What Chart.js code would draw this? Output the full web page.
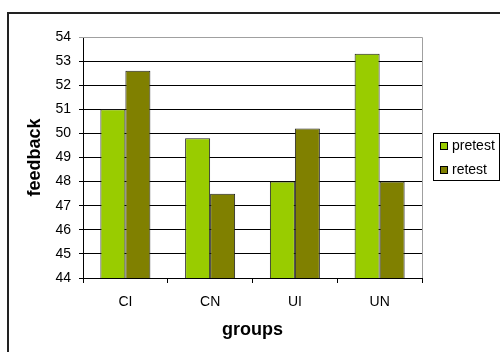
<!DOCTYPE html>
<html>
<head>
<meta charset="utf-8">
<script src="https://cdn.jsdelivr.net/npm/chart.js@4/dist/chart.umd.min.js"></script>
<style>
  html, body { margin: 0; padding: 0; background: #fff; }
  #wrap { width: 500px; height: 352px; }
</style>
</head>
<body>
<div id="wrap"><canvas id="c" width="500" height="352"></canvas></div>
<script>
const groups = ['CI', 'CN', 'UI', 'UN'];
const pretest = [51.0, 49.8, 48.0, 53.3];
const retest = [52.6, 47.5, 50.2, 48.0];
const yTicks = [44, 45, 46, 47, 48, 49, 50, 51, 52, 53, 54];

const FONT = '"Liberation Sans", Arial, sans-serif';
const PAD_BOTTOM = 7;

// Frame around the figure, gray plot border and the boxed legend
const decor = {
  id: 'decor',
  beforeDraw(chart) {
    const ctx = chart.ctx;
    ctx.save();
    ctx.fillStyle = '#fff';
    ctx.fillRect(0, 0, chart.width, chart.height);
    ctx.strokeStyle = '#222';
    ctx.lineWidth = 2;
    ctx.beginPath();
    ctx.moveTo(8, chart.height);
    ctx.lineTo(8, 13);
    ctx.lineTo(chart.width, 13);
    ctx.stroke();
    ctx.restore();
  },
  beforeDatasetsDraw(chart) {
    const { ctx, chartArea: a } = chart;
    ctx.save();
    ctx.strokeStyle = '#a0a0a0';
    ctx.lineWidth = 1;
    ctx.beginPath();
    ctx.moveTo(a.left, a.top + 0.5);
    ctx.lineTo(a.right + 0.5, a.top + 0.5);
    ctx.lineTo(a.right + 0.5, a.bottom);
    ctx.stroke();
    ctx.restore();
  },
  afterDraw(chart) {
    const ctx = chart.ctx;
    ctx.save();
    ctx.strokeStyle = '#000';
    ctx.lineWidth = 1;
    ctx.fillStyle = '#fff';
    ctx.fillRect(433.5, 133.5, 66, 47);
    ctx.strokeRect(433.5, 133.5, 66, 47);
    ctx.font = '14px ' + FONT;
    ctx.textBaseline = 'middle';
    chart.data.datasets.forEach((ds, i) => {
      const y = 146 + i * 24;
      ctx.fillStyle = ds.backgroundColor;
      ctx.fillRect(440.5, y - 3.5, 7, 7);
      ctx.strokeStyle = '#000';
      ctx.strokeRect(440.5, y - 3.5, 7, 7);
      ctx.fillStyle = '#000';
      ctx.fillText(ds.label, 452, y + 0.5);
    });
    ctx.restore();
  }
};

new Chart(document.getElementById('c'), {
  type: 'bar',
  data: {
    labels: groups,
    datasets: [
      { label: 'pretest', data: pretest, backgroundColor: '#99CC00', borderColor: '#222', borderWidth: 1 },
      { label: 'retest', data: retest, backgroundColor: '#808000', borderColor: '#222', borderWidth: 1 }
    ]
  },
  options: {
    responsive: false,
    animation: false,
    devicePixelRatio: 1,
    layout: { padding: { left: 20, top: 37, right: 78, bottom: PAD_BOTTOM } },
    plugins: { legend: { display: false }, tooltip: { enabled: false } },
    datasets: { bar: { categoryPercentage: 0.59, barPercentage: 1.0 } },
    scales: {
      x: {
        grid: { drawOnChartArea: false, color: '#000', tickLength: 5, offset: true },
        border: { color: '#000', width: 1 },
        ticks: { color: '#000', font: { family: FONT, size: 14 }, padding: 11 },
        title: { display: true, text: 'groups', color: '#000', font: { family: FONT, size: 18, weight: 'bold' } },
        afterFit(s) { s.height = 352 - PAD_BOTTOM - 278; }
      },
      y: {
        min: 44, max: 54,
        afterBuildTicks(s) { s.ticks = yTicks.map(v => ({ value: v })); },
        grid: {
          color: c => (c.tick && c.tick.value === 54 ? '#a0a0a0' : '#000'),
          tickLength: 4
        },
        border: { color: '#000', width: 1 },
        ticks: { color: '#000', font: { family: FONT, size: 14 }, padding: 8 },
        title: { display: true, text: 'feedback', color: '#000', font: { family: FONT, size: 18, weight: 'bold' } },
        afterFit(s) { s.width = 83 - 20; }
      }
    }
  },
  plugins: [decor]
});
</script>
</body>
</html>
